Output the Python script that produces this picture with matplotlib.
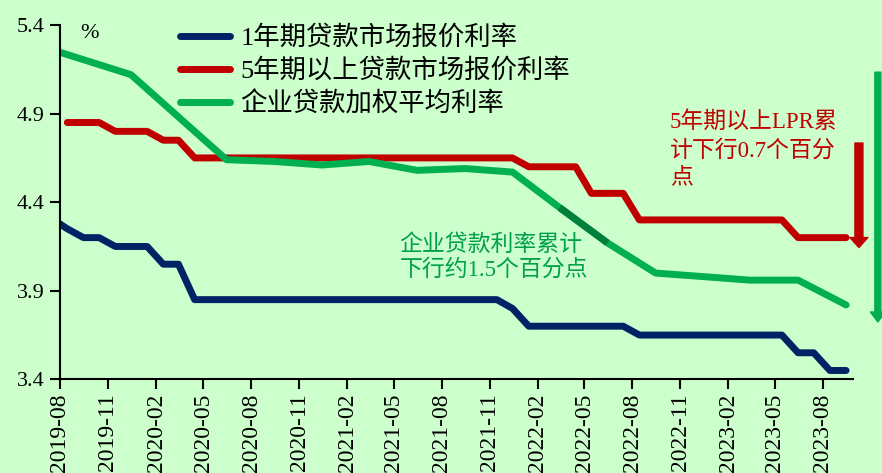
import numpy as np
import pandas as pd
import matplotlib
matplotlib.use('Agg')
from matplotlib import pyplot as plt

plt.rcParams['font.family'] = ['Liberation Serif', 'Noto Sans CJK SC']
plt.rcParams['axes.unicode_minus'] = False

# monthly LPR quotes 2019-07 .. 2023-09 (2019-07 = old LPR, only 1y)
lpr_months = pd.date_range('2019-07-01', '2023-09-01', freq='MS') + pd.Timedelta(days=14)
lpr_1y = [4.31, 4.25, 4.20, 4.20, 4.15, 4.15,
          4.15, 4.05, 4.05, 3.85, 3.85, 3.85, 3.85, 3.85, 3.85, 3.85, 3.85, 3.85,
          3.85, 3.85, 3.85, 3.85, 3.85, 3.85, 3.85, 3.85, 3.85, 3.85, 3.85, 3.80,
          3.70, 3.70, 3.70, 3.70, 3.70, 3.70, 3.70, 3.65, 3.65, 3.65, 3.65, 3.65,
          3.65, 3.65, 3.65, 3.65, 3.65, 3.55, 3.55, 3.45, 3.45]
lpr_5y = [np.nan, 4.85, 4.85, 4.85, 4.80, 4.80,
          4.80, 4.75, 4.75, 4.65, 4.65, 4.65, 4.65, 4.65, 4.65, 4.65, 4.65, 4.65,
          4.65, 4.65, 4.65, 4.65, 4.65, 4.65, 4.65, 4.65, 4.65, 4.65, 4.65, 4.65,
          4.60, 4.60, 4.60, 4.60, 4.45, 4.45, 4.45, 4.30, 4.30, 4.30, 4.30, 4.30,
          4.30, 4.30, 4.30, 4.30, 4.30, 4.20, 4.20, 4.20, 4.20]

# corporate loan weighted average rate
corp_dates = pd.to_datetime(['2019-06-15', '2019-12-15', '2020-06-15', '2020-09-15',
                             '2020-12-15', '2021-03-15', '2021-06-15', '2021-09-15',
                             '2021-12-15', '2022-03-15', '2022-06-15', '2022-09-15',
                             '2022-12-15', '2023-03-15', '2023-06-15', '2023-09-15'])
corp_rate = [5.29, 5.12, 4.64, 4.63, 4.61, 4.63, 4.58, 4.59,
             4.57, 4.37, 4.17, 4.00, 3.98, 3.96, 3.96, 3.82]

labels = ['1年期贷款市场报价利率', '5年期以上贷款市场报价利率', '企业贷款加权平均利率']
tick_dates = pd.date_range('2019-08-01', '2023-08-01', freq='3MS')

bg = '#CCFFCC'
c_blue = '#002366'
c_red = '#C00000'
c_green = '#00B050'

fig = plt.figure(figsize=(8.82, 4.73), dpi=100, facecolor=bg)
ax = fig.add_axes([0.068, 0.198, 0.899, 0.749])
ax.set_facecolor(bg)

lw = 5
ax.plot(lpr_months, lpr_1y, color=c_blue, lw=lw, solid_capstyle='round', label=labels[0])
ax.plot(lpr_months, lpr_5y, color=c_red, lw=lw, solid_capstyle='round', label=labels[1])
ax.plot(corp_dates, corp_rate, color=c_green, lw=lw, solid_capstyle='round', label=labels[2])
# darker stretch 2022-03 .. 2022-06
ax.plot(corp_dates[9:11], corp_rate[9:11], color='#00803A', lw=lw, solid_capstyle='butt')

ax.set_xlim(pd.Timestamp('2019-08-01'), pd.Timestamp('2023-09-28'))
ax.set_ylim(3.4, 5.4)
ax.set_yticks([3.4, 3.9, 4.4, 4.9, 5.4])
ax.set_yticklabels(['3.4', '3.9', '4.4', '4.9', '5.4'])
ax.set_xticks(tick_dates)
ax.set_xticklabels([d.strftime('%Y-%m') for d in tick_dates], rotation=90)

for s in ['top', 'right']:
    ax.spines[s].set_visible(False)
for s in ['left', 'bottom']:
    ax.spines[s].set_linewidth(1.5)
ax.tick_params(direction='out', length=7, width=1.5, labelsize=16)
ax.tick_params(axis='x', pad=3, labelsize=17)
ax.tick_params(axis='y', pad=4)

ax.text(0.025, 0.977, '%', transform=ax.transAxes, fontsize=16, va='center')

leg = ax.legend(loc='upper left', bbox_to_anchor=(0.151, 1.0), frameon=False,
                fontsize=19, handlelength=1.9, handletextpad=0.4,
                labelspacing=0.32, borderpad=0, borderaxespad=0)

ax.text(0.769, 0.757, '5年期以上LPR累\n计下行0.7个百分\n点', transform=ax.transAxes,
        fontsize=16.5, color=c_red, va='top', linespacing=1.42)
ax.text(0.428, 0.41, '企业贷款利率累计\n下行约1.5个百分点', transform=ax.transAxes,
        fontsize=16.5, color='#00A04A', va='top', linespacing=1.2)

# arrows on the right edge
ax.annotate('', xy=(1.0076, 0.372), xytext=(1.0076, 0.667), xycoords='axes fraction',
            annotation_clip=False,
            arrowprops=dict(arrowstyle='simple,head_length=1.0,head_width=1.8,tail_width=0.8',
                            mutation_scale=7.2, color=c_red, shrinkA=0, shrinkB=0))
ax.annotate('', xy=(1.0315, 0.162), xytext=(1.0315, 0.867), xycoords='axes fraction',
            annotation_clip=False,
            arrowprops=dict(arrowstyle='simple,head_length=1.0,head_width=1.5,tail_width=0.6',
                            mutation_scale=7.2, color=c_green, shrinkA=0, shrinkB=0))

fig.savefig('out.png', dpi=100, facecolor=bg)
